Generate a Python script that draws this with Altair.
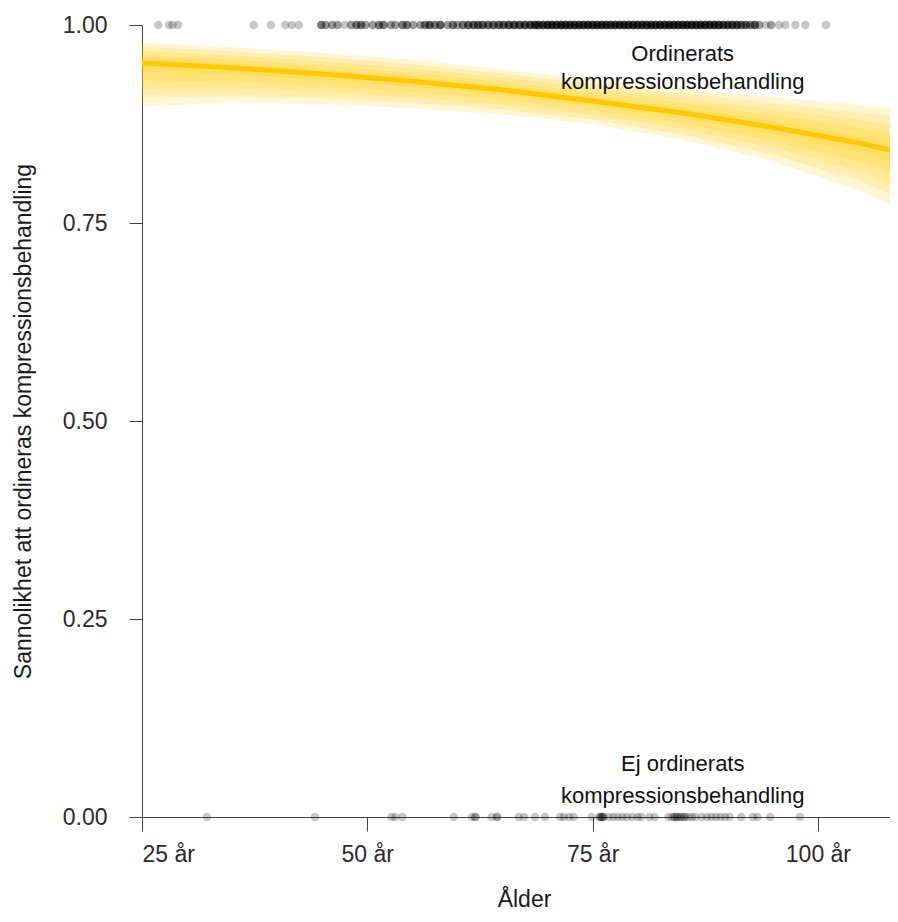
import altair as alt
import pandas as pd

# ---- data ----
# patients with prescribed compression (y = 1): age and number of patients
ord_age = [26.8, 28.0, 28.4, 29.0, 37.4, 39.3, 40.9, 41.6, 42.4,
           44.9, 45.4, 46.1, 46.7, 47.5, 48.2, 48.8, 49.3, 49.8, 50.6,
           51.3, 51.8, 52.6, 53.1, 53.9, 54.4, 55.1, 55.9, 56.4, 56.9,
           57.5, 58.1, 58.9, 59.5, 60.0, 60.6, 61.2, 61.8,
           62.3, 62.8, 63.4, 64.0, 64.6, 65.1, 65.7, 66.3, 66.9, 67.5, 68.1, 68.6,
           69.0, 69.5, 70.0, 70.5, 71.0, 71.5, 72.0, 72.5, 73.0, 73.5, 74.0, 74.5,
           75.0, 75.5, 76.0, 76.5, 77.0, 77.5, 78.0, 78.5, 79.0, 79.5, 80.0, 80.5,
           81.0, 81.5, 82.0, 82.5, 83.0, 83.5, 84.0, 84.5, 85.0, 85.5, 86.0, 86.5,
           87.0, 87.5, 88.0, 88.5, 89.0, 89.5, 90.0, 90.5, 91.0, 91.5, 92.0,
           92.5, 93.0, 93.5, 94.2, 94.8, 95.7, 96.4, 97.5, 98.6, 100.9]
ord_n = [1, 1, 1, 1, 1, 1, 1, 1, 1,
         3, 2, 2, 2, 1, 2, 3, 3, 2, 2,
         3, 3, 2, 2, 3, 3, 2, 2, 3, 4,
         3, 4, 2, 3, 2, 3, 4, 4,
         4, 4, 4, 4, 4, 4, 5, 5, 5, 5, 5, 5,
         5, 5, 6, 6, 6, 6, 6, 6, 6, 6, 6, 6,
         6, 6, 6, 6, 6, 6, 6, 6, 6, 6, 6, 6,
         6, 6, 6, 6, 6, 6, 6, 6, 6, 6, 6, 6,
         6, 6, 6, 6, 6, 5, 5, 5, 5, 4, 4,
         3, 4, 2, 1, 2, 1, 1, 1, 1, 1]

# patients without prescribed compression (y = 0)
ej_age = [32.2, 44.2, 52.7, 53.1, 53.9, 59.6, 61.6, 62.0, 63.8, 64.4,
          66.8, 67.4, 68.6, 69.7, 71.4, 71.8, 72.4, 72.9, 74.9, 75.8,
          76.0, 76.2, 76.8, 77.3, 77.8, 78.3, 78.8, 79.4, 80.0, 80.4,
          81.3, 81.9, 83.4, 83.8, 84.1, 84.4, 84.8, 85.2, 85.6, 86.0,
          86.4, 87.1, 87.7, 88.2, 88.7, 89.2, 89.7, 90.2, 91.5, 92.8,
          93.3, 94.7, 98.0]
ej_n = [1, 1, 1, 1, 1, 1, 1, 2, 1, 2,
        1, 1, 1, 1, 1, 1, 1, 1, 1, 2,
        2, 2, 1, 1, 1, 1, 1, 1, 1, 1,
        1, 1, 1, 1, 2, 2, 2, 2, 1, 1,
        1, 1, 1, 1, 1, 1, 1, 1, 1, 1,
        1, 1, 1]

# fitted probability with uncertainty band
curve_age = [25, 35, 45, 55, 65, 75, 85, 95, 105, 108]
curve_fit = [0.952, 0.946, 0.938, 0.929, 0.918, 0.904, 0.889, 0.871, 0.850, 0.842]
curve_lo = [0.897, 0.902, 0.900, 0.895, 0.887, 0.875, 0.855, 0.828, 0.790, 0.772]
curve_hi = [0.978, 0.972, 0.965, 0.956, 0.944, 0.931, 0.920, 0.909, 0.899, 0.896]
band_levels = [0.2, 0.4, 0.6, 0.8, 1.0]

x_ticks = [25, 50, 75, 100]
y_ticks = [0, 0.25, 0.5, 0.75, 1.0]

label_text = ["Ordinerats", "kompressionsbehandling",
              "Ej ordinerats", "kompressionsbehandling"]
label_x = [85, 85, 85, 85]
label_y = [0.9545, 0.919, 0.058, 0.0177]

# ---- tables ----
pts = []
for a, n in zip(ord_age, ord_n):
    pts += [{"age": a, "p": 1.0}] * n
for a, n in zip(ej_age, ej_n):
    pts += [{"age": a, "p": 0.0}] * n
pts = pd.DataFrame(pts)

band_rows = []
for lev in band_levels:
    for a, f, lo, hi in zip(curve_age, curve_fit, curve_lo, curve_hi):
        band_rows.append({"level": lev, "age": a,
                          "lo": f - lev * (f - lo), "hi": f + lev * (hi - f)})
bands = pd.DataFrame(band_rows)
curve = pd.DataFrame({"age": curve_age, "fit": curve_fit})
labels = pd.DataFrame({"text": label_text, "age": label_x, "p": label_y})

FONT = "Liberation Sans"
GOLD = "#FFC800"

xscale = alt.Scale(domain=[25, 108], nice=False, zero=False)
yscale = alt.Scale(domain=[0, 1], nice=False, zero=False)

xaxis = alt.Axis(values=x_ticks, labelExpr="datum.value + ' år'", grid=False,
                 tickSize=14, labelPadding=12, labelFontSize=23, labelFont=FONT,
                 labelColor="#2b2b2b", domainColor="#444", tickColor="#444",
                 title="Ålder", titleFont=FONT, titleFontSize=23,
                 titleFontWeight="normal", titleColor="#1a1a1a",
                 titleX=382, titleY=89, titleAlign="center",
                 titleBaseline="alphabetic")
yaxis = alt.Axis(values=y_ticks, format=".2f", grid=False,
                 tickSize=13, labelPadding=22, labelFontSize=23, labelFont=FONT,
                 labelColor="#2b2b2b", domainColor="#444", tickColor="#444",
                 title="Sannolikhet att ordineras kompressionsbehandling",
                 titleFont=FONT, titleFontSize=23, titleFontWeight="normal",
                 titleColor="#1a1a1a", titleAngle=270, titleX=-112, titleY=396,
                 titleAlign="center", titleBaseline="alphabetic")

band_layer = alt.Chart(bands).mark_area(color=GOLD, opacity=0.17, clip=True).encode(
    x=alt.X("age:Q", scale=xscale, axis=xaxis),
    y=alt.Y("lo:Q", scale=yscale, axis=yaxis),
    y2="hi:Q",
    detail="level:N",
)
line_layer = alt.Chart(curve).mark_line(color=GOLD, strokeWidth=5, clip=True).encode(
    x=alt.X("age:Q", scale=xscale),
    y=alt.Y("fit:Q", scale=yscale),
)
pt_layer = alt.Chart(pts).mark_circle(color="black", opacity=0.22, size=72).encode(
    x=alt.X("age:Q", scale=xscale),
    y=alt.Y("p:Q", scale=yscale),
)
text_layer = alt.Chart(labels).mark_text(font=FONT, fontSize=22, color="#111",
                                         align="center", baseline="alphabetic").encode(
    x=alt.X("age:Q", scale=xscale),
    y=alt.Y("p:Q", scale=yscale),
    text="text:N",
)

chart = alt.layer(band_layer, line_layer, pt_layer, text_layer).properties(
    width=748, height=792,
    autosize=alt.AutoSizeParams(type="none"),
    padding={"left": 134, "top": 17, "right": 0, "bottom": 96},
).configure_view(stroke=None)

chart.save("out.html", embed_options={"renderer": "svg", "actions": False})
